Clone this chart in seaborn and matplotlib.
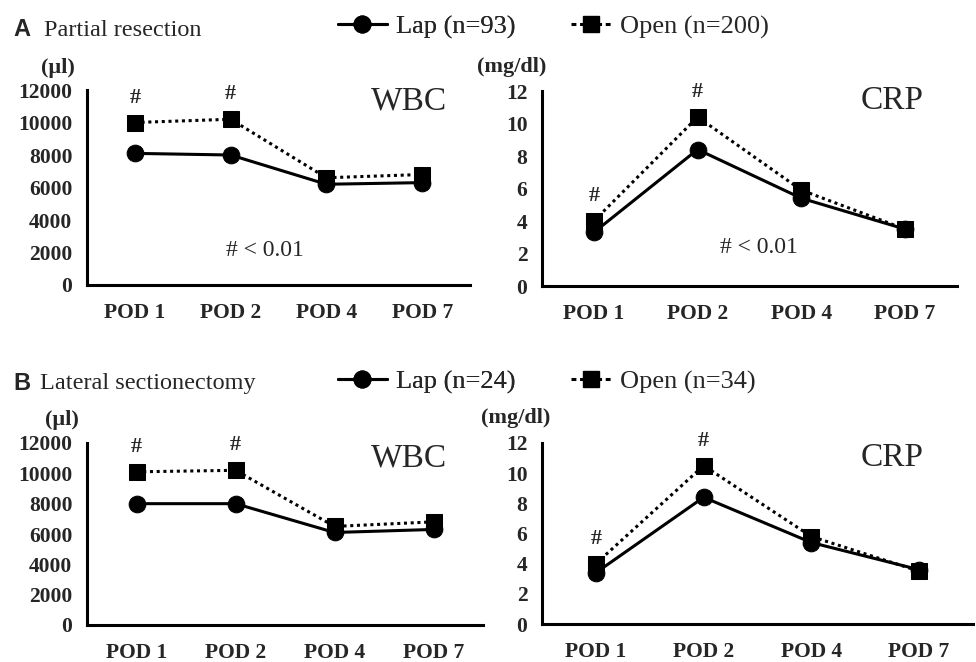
import pandas as pd
import matplotlib.pyplot as plt
import seaborn as sns
from matplotlib.lines import Line2D

days = ["POD 1", "POD 2", "POD 4", "POD 7"]

wbc_lap_a = [8100, 8000, 6200, 6300]
wbc_open_a = [10000, 10200, 6600, 6800]
crp_lap_a = [3.3, 8.4, 5.4, 3.5]
crp_open_a = [4.0, 10.4, 5.9, 3.5]

wbc_lap_b = [8000, 8000, 6100, 6300]
wbc_open_b = [10100, 10200, 6500, 6800]
crp_lap_b = [3.4, 8.4, 5.4, 3.6]
crp_open_b = [4.0, 10.5, 5.8, 3.5]

sig_wbc_a = [0, 1]
sig_crp_a = [0, 1]
sig_wbc_b = [0, 1]
sig_crp_b = [0, 1]

sns.set_style("white")
plt.rcParams['font.family'] = ['Liberation Serif', 'DejaVu Serif']

fig = plt.figure(figsize=(9.76, 6.62), dpi=100)
W, H = 976, 662


def px_axes(left, right, top, bottom):
    return fig.add_axes([left / W, 1 - bottom / H, (right - left) / W, (bottom - top) / H])


def panel(ax, lap, opn, sig, ymax, ystep, name, name_pos, note=None):
    df = pd.DataFrame({"day": days * 2, "val": lap + opn,
                       "grp": ["Lap"] * 4 + ["Open"] * 4})
    df["x"] = list(range(4)) * 2
    sns.lineplot(data=df[df.grp == "Lap"], x="x", y="val", ax=ax, color="black",
                 marker="o", markersize=12, lw=2.2, markeredgecolor="black")
    sns.lineplot(data=df[df.grp == "Open"], x="x", y="val", ax=ax, color="black",
                 marker="s", markersize=11, lw=2.2, ls=(0, (1, 1.2)), markeredgecolor="black")
    for i in sig:
        ax.annotate("#", (i, opn[i]), xytext=(0, 18), textcoords="offset points",
                    ha="center", va="center", fontsize=16, fontweight="bold")
    ax.set_xlim(-0.5, 3.5)
    ax.set_ylim(0, ymax)
    ax.set_yticks([ystep * k for k in range(7)])
    ax.set_xticks(range(4))
    ax.set_xticklabels(days)
    ax.set_xticks([0.5, 1.5, 2.5, 3.5], minor=True)
    ax.tick_params(axis="x", which="major", length=0, pad=13, labelsize=15.5)
    ax.tick_params(axis="x", which="minor", length=5, width=2, direction="out")
    ax.tick_params(axis="y", length=4.5, width=2, direction="out", labelsize=15.5, pad=6)
    for lab in ax.get_xticklabels() + ax.get_yticklabels():
        lab.set_fontweight("bold")
    ax.set_xlabel("")
    ax.set_ylabel("")
    sns.despine(ax=ax)
    for s in ["left", "bottom"]:
        ax.spines[s].set_linewidth(2.2)
        ax.spines[s].set_color("black")
    ax.text(name_pos[0], name_pos[1], name, transform=ax.transAxes, fontsize=24,
            ha="center", va="center")
    if note is not None:
        ax.text(note[0], note[1], "# < 0.01", fontsize=17, ha="center", va="center")


ax1 = px_axes(87, 470, 90, 285)
ax2 = px_axes(542, 957, 91, 286)
ax3 = px_axes(87, 483, 443, 625)
ax4 = px_axes(542, 973, 443, 624)

panel(ax1, wbc_lap_a, wbc_open_a, sig_wbc_a, 12000, 2000, "WBC", (0.84, 0.94), (1.36, 2100))
panel(ax2, crp_lap_a, crp_open_a, sig_crp_a, 12, 2, "CRP", (0.843, 0.95), (1.59, 2.4))
panel(ax3, wbc_lap_b, wbc_open_b, sig_wbc_b, 12000, 2000, "WBC", (0.813, 0.918))
panel(ax4, crp_lap_b, crp_open_b, sig_crp_b, 12, 2, "CRP", (0.812, 0.917))

# units
unit_kw = dict(fontsize=16, fontweight="bold", ha="center", va="center")
fig.text(58 / W, 1 - 68 / H, "(µl)", **unit_kw)
fig.text(512 / W, 1 - 67 / H, "(mg/dl)", **unit_kw)
fig.text(62 / W, 1 - 420 / H, "(µl)", **unit_kw)
fig.text(516 / W, 1 - 418 / H, "(mg/dl)", **unit_kw)

# panel titles
fig.text(13 / W, 1 - 30 / H, "A", fontsize=17, fontweight="bold", family="Liberation Sans",
         ha="left", va="center")
fig.text(44 / W, 1 - 30 / H, "Partial resection", fontsize=17.5, ha="left", va="center")
fig.text(13 / W, 1 - 383 / H, "B", fontsize=17, fontweight="bold", family="Liberation Sans",
         ha="left", va="center")
fig.text(40 / W, 1 - 383 / H, "Lateral sectionectomy", fontsize=17.5, ha="left", va="center")

# legends
lap_h = Line2D([], [], color="black", marker="o", markersize=12, lw=2.2)
open_h = Line2D([], [], color="black", marker="s", markersize=11, lw=2.2, ls=(0, (1.6, 1.2)))
leg_kw = dict(loc="center left", frameon=False, fontsize=19, handletextpad=0.35,
              borderpad=0, borderaxespad=0)
for y, lap_lab, open_lab in [(27, "Lap (n=93)", "Open (n=200)"), (382, "Lap (n=24)", "Open (n=34)")]:
    l1 = fig.legend([lap_h], [lap_lab], bbox_to_anchor=(338 / W, 1 - y / H),
                    handlelength=1.85, **leg_kw)
    fig.add_artist(l1)
    fig.legend([open_h], [open_lab], bbox_to_anchor=(571 / W, 1 - y / H),
               handlelength=1.5, **leg_kw)

fig.savefig("out.png", dpi=100)
